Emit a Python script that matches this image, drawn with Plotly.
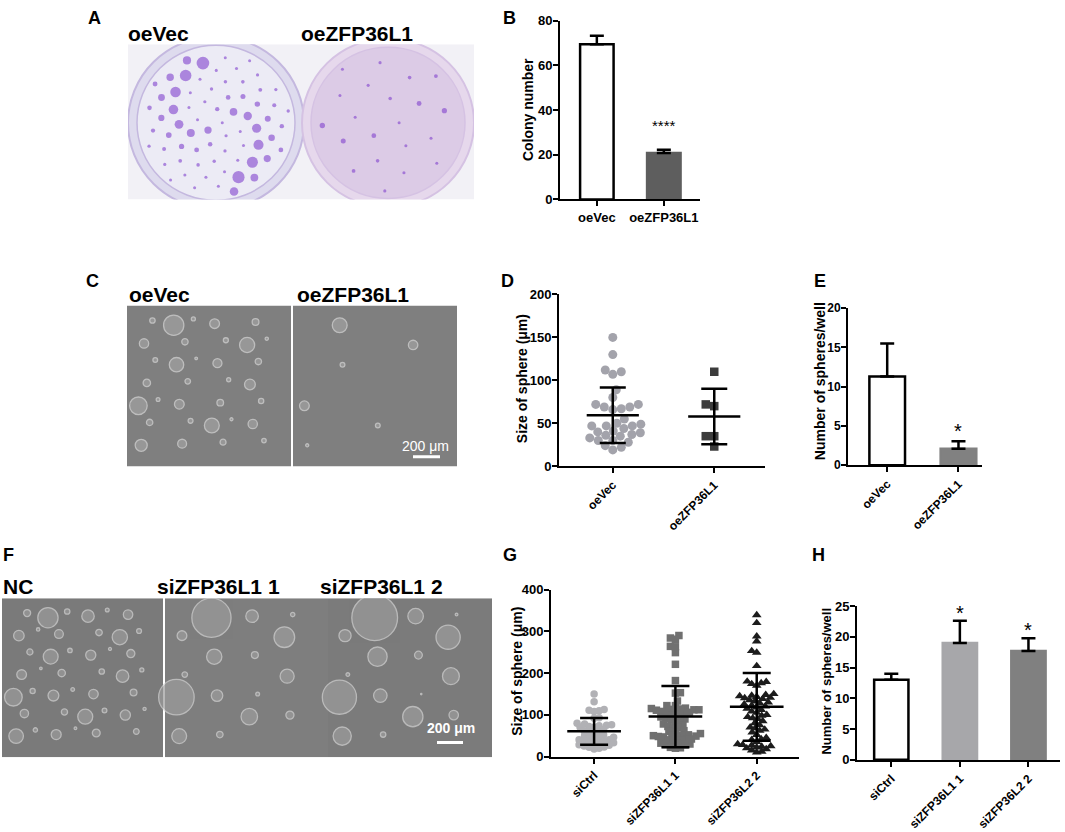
import numpy as np
import plotly.graph_objects as go

W, H = 1065, 832
FONT = "Liberation Sans, Arial, Helvetica, sans-serif"

# ---------------- data ----------------
# Panel B: colony number
b_groups = ["oeVec", "oeZFP36L1"]
b_mean = [69.5, 20.8]
b_err = [3.8, 1.5]
b_sig = ["", "****"]

# Panel D: size of sphere (um)
d_groups = ["oeVec", "oeZFP36L1"]
d_oevec = [150, 130, 112, 110, 107, 89, 80, 72, 72, 69, 69, 67, 66, 55, 50, 49,
           47, 47, 47, 44, 41, 40, 39, 37, 36, 35, 33, 30, 30, 28, 24, 22, 19]
d_oezfp = [110, 72, 70, 35, 35, 23]
d_mean = [59.4, 57.9]
d_sd = [32.3, 32.4]

# Panel E: number of spheres/well
e_groups = ["oeVec", "oeZFP36L1"]
e_mean = [11.3, 2.1]
e_err = [4.2, 0.95]
e_sig = ["", "*"]

# Panel G: size of sphere (um)
g_groups = ["siCtrl", "siZFP36L1 1", "siZFP36L2 2"]
g_sictrl = [150, 131, 113, 111, 110, 108, 93, 92, 80, 78, 76, 75, 74, 72, 70, 70,
            65, 62, 60, 58, 55, 52, 50, 48, 46, 45, 42, 40, 40, 38, 36, 35, 33, 32,
            30, 28, 27, 25, 23, 22, 20, 18]
g_si1 = [290, 284, 281, 264, 263, 249, 221, 182, 153, 152, 133, 122, 122,
         116, 115, 114, 113, 112, 112, 111, 110, 108, 106, 105, 104, 102, 100,
         95, 93, 92, 90, 88, 85, 80, 78, 75, 72, 70, 68, 62, 60, 58, 55,
         52, 51, 50, 50, 49, 48, 47, 46, 42, 41, 40, 39, 38, 32, 31, 30, 29, 28,
         22, 21, 20]
g_si2 = [339, 320, 288, 276, 253, 249, 217, 180, 179, 176, 174, 170, 150, 148,
         146, 145, 143, 141, 140, 138, 135, 132, 130, 128, 125, 122, 120, 118,
         115, 112, 108, 105, 100, 98, 95, 92, 90, 85, 80, 75, 70, 68, 65, 62, 58,
         52, 45, 42, 40, 35, 30, 28, 27, 25, 24, 22, 20, 18, 15, 12, 10]
g_mean = [60.4, 95.7, 119.0]
g_sd = [32.0, 73.3, 81.2]

# Panel H: number of spheres/well
h_groups = ["siCtrl", "siZFP36L1 1", "siZFP36L2 2"]
h_mean = [13.0, 19.0, 17.7]
h_err = [1.0, 3.6, 2.05]
h_sig = ["", "*", "*"]

# Photo panel captions
photo_a_labels = ["oeVec", "oeZFP36L1"]
photo_c_labels = ["oeVec", "oeZFP36L1"]
photo_f_labels = ["NC", "siZFP36L1 1", "siZFP36L1 2"]
scale_label = "200 μm"
panel_letters = ["A", "B", "C", "D", "E", "F", "G", "H"]


# ---------------- helpers ----------------
def xd(a, b):
    return [a / W, b / W]


def yd(top, bottom):
    return [1 - bottom / H, 1 - top / H]


def px(x):
    return x / W


def py(y):
    return 1 - y / H


def value_axis(rng, dtick, top, bottom, anchor, tsize=13):
    return dict(domain=yd(top, bottom), range=rng, dtick=dtick, tick0=0, anchor=anchor,
                showline=True, linewidth=2, linecolor="black", ticks="outside",
                ticklen=5, tickwidth=2, tickcolor="black", showgrid=False,
                zeroline=False, fixedrange=True, ticklabelstandoff=-2,
                tickfont=dict(family=FONT, size=tsize, color="black", weight="bold"))


def cat_axis(names, rng, left, right, anchor, angle, tsize=13):
    return dict(domain=xd(left, right), range=rng, tickmode="array",
                tickvals=list(range(len(names))), ticktext=names, tickangle=angle,
                anchor=anchor, showline=True, linewidth=2, linecolor="black",
                ticks="outside", ticklen=5, tickwidth=2, tickcolor="black",
                showgrid=False, zeroline=False, fixedrange=True,
                tickfont=dict(family=FONT, size=tsize, color="black", weight="bold"))


def photo_axes(left, right, top, bottom, anchor_x, anchor_y):
    xa = dict(domain=xd(left, right), range=[left, right], visible=False,
              anchor=anchor_y, fixedrange=True)
    ya = dict(domain=yd(top, bottom), range=[bottom, top], visible=False,
              anchor=anchor_x, fixedrange=True)
    return xa, ya


def swarm_offsets(values, ppu, ppc, dmin):
    vals = np.asarray(values, float)
    order = np.argsort(vals, kind="stable")
    placed = []
    offs = np.zeros(len(vals))
    step = 0.5
    for n, idx in enumerate(order):
        yv = vals[idx] * ppu
        best = None
        signs = (1, -1) if n % 2 else (-1, 1)
        for j in range(0, 600):
            for sgn in ((1,) if j == 0 else signs):
                xv = sgn * j * step
                if all((xv - a) ** 2 + (yv - b) ** 2 >= dmin ** 2 for a, b in placed):
                    best = xv
                    break
            if best is not None:
                break
        placed.append((best, yv))
        offs[idx] = best / ppc
    return offs


def golden_layout(n, cx, cy, R):
    k = np.arange(n)
    r = R * np.sqrt((k + 0.5) / n)
    th = k * 2.399963
    return cx + r * np.cos(th), cy + r * np.sin(th)


def r2_layout(n, x0, x1, y0, y1, pad):
    g = 1.32471795724474602596
    k = np.arange(1, n + 1)
    u = (0.5 + k / g) % 1
    v = (0.5 + k / g ** 2) % 1
    return x0 + pad + u * (x1 - x0 - 2 * pad), y0 + pad + v * (y1 - y0 - 2 * pad)


fig = go.Figure()
annotations = []
shapes = []


def text(t, x, y, size, bold=True, xanchor="center", yanchor="middle", angle=0,
         color="black", xref="paper", yref="paper", yshift=0):
    annotations.append(dict(text=t, x=x, y=y, xref=xref, yref=yref, showarrow=False,
                            xanchor=xanchor, yanchor=yanchor, textangle=angle,
                            yshift=yshift,
                            font=dict(family=FONT, size=size, color=color,
                                      weight="bold" if bold else "normal")))


# ---------------- bar panels ----------------
def bar_panel(xa, ya, means, errs, fills, lines, sig, star_size, star_shift):
    n = len(means)
    fig.add_trace(go.Bar(
        x=list(range(n)), y=means, width=0.5, xaxis=xa, yaxis=ya,
        marker=dict(color=fills, line=dict(color=lines, width=2.5)),
        error_y=dict(type="data", symmetric=False, array=errs, arrayminus=[0] * n,
                     color="black", thickness=2.5, width=7),
        hoverinfo="skip"))
    for i, s in enumerate(sig):
        if s:
            text(s, i, means[i] + errs[i], star_size, bold=False, xref=xa,
                 yref=ya, yshift=star_shift)


bar_panel("x", "y", b_mean, b_err, ["white", "#5e5e5e"], ["black", "#5e5e5e"],
          b_sig, 15, 24)
bar_panel("x3", "y3", e_mean, e_err, ["white", "#818181"], ["black", "#818181"],
          e_sig, 20, 10)
bar_panel("x5", "y5", h_mean, h_err, ["white", "#a7a7aa", "#808080"],
          ["black", "#a7a7aa", "#808080"], h_sig, 20, 8)


# ---------------- scatter panels ----------------
def scatter_panel(xa, ya, groups_vals, symbols, colors, sizes, ppu, ppc, dmin,
                  means, sds, half_line, cap):
    for i, vals in enumerate(groups_vals):
        offs = swarm_offsets(vals, ppu, ppc, dmin)
        fig.add_trace(go.Scatter(
            x=i + offs, y=vals, mode="markers", xaxis=xa, yaxis=ya,
            marker=dict(symbol=symbols[i], color=colors[i], size=sizes[i],
                        line=dict(width=0)),
            cliponaxis=False, hoverinfo="skip"))
    lx, ly = [], []
    for i, m in enumerate(means):
        lx += [i - half_line, i + half_line, None]
        ly += [m, m, None]
    fig.add_trace(go.Scatter(x=lx, y=ly, mode="lines", xaxis=xa, yaxis=ya,
                             line=dict(color="black", width=2.5), hoverinfo="skip"))
    fig.add_trace(go.Scatter(
        x=list(range(len(means))), y=means, mode="markers", xaxis=xa, yaxis=ya,
        marker=dict(size=1, color="rgba(0,0,0,0)"),
        error_y=dict(type="data", array=sds, color="black", thickness=2.5, width=cap),
        hoverinfo="skip"))


scatter_panel("x2", "y2", [d_oevec, d_oezfp], ["circle", "square"],
              ["#a3a3ab", "#3c3c3c"], [9, 8.5], 175 / 200, 101.3, 8.5,
              d_mean, d_sd, 0.257, 13)
scatter_panel("x4", "y4", [g_sictrl, g_si1, g_si2],
              ["circle", "square", "triangle-up"],
              ["#b1b1b5", "#707070", "#1c1c1c"], [7.5, 7.5, 8.5], 170 / 400, 81.2,
              5.0, g_mean, g_sd, 0.33, 14)

# ---------------- photo panels (illustrations) ----------------
# Panel A: two culture dishes with stained colonies
shapes.append(dict(type="rect", xref="x6", yref="y6", x0=128, x1=474, y0=38, y1=196,
                   fillcolor="#f2f1f6", line=dict(width=0), layer="below"))
dish = [(216, 118, 88, "#dedbee", "#c4b8df", "#ecebf5"),
        (388, 118, 86, "#e6d8ec", "#d5c2e3", "#dccbe6")]
for cx, cy, R, outer, rim, inner in dish:
    shapes.append(dict(type="circle", xref="x6", yref="y6", x0=cx - R, x1=cx + R,
                       y0=cy - R, y1=cy + R, fillcolor=outer,
                       line=dict(color=rim, width=2), layer="below"))
    shapes.append(dict(type="circle", xref="x6", yref="y6", x0=cx - R + 9,
                       x1=cx + R - 9, y0=cy - R + 9, y1=cy + R - 9, fillcolor=inner,
                       line=dict(color=rim, width=1.5), layer="below"))
for j, (cx, cy, R, *_rest) in enumerate(dish):
    n = int(round(b_mean[j]))
    cxs, cys = golden_layout(n, cx, cy, R - 14)
    k = np.arange(n)
    frac = (k * 0.7548776662) % 1
    sz = 3 + (10 if j == 0 else 4) * frac ** 3
    fig.add_trace(go.Scatter(x=cxs, y=cys, mode="markers", xaxis="x6", yaxis="y6",
                             marker=dict(size=sz, color="rgba(128,64,204,0.85)",
                                         line=dict(width=0)),
                             hoverinfo="skip"))

# Panel C: phase-contrast fields
c_fields = [(127, 291), (293, 457)]
for (x0, x1) in c_fields:
    shapes.append(dict(type="rect", xref="x7", yref="y7", x0=x0, x1=x1, y0=304,
                       y1=468, fillcolor="#7f7f7f", line=dict(width=0), layer="below"))
c_scale = 27 / 200
for (x0, x1), vals in zip(c_fields, [d_oevec, d_oezfp]):
    sx, sy = r2_layout(len(vals), x0, x1, 304, 468, 10)
    fig.add_trace(go.Scatter(x=sx, y=sy, mode="markers", xaxis="x7", yaxis="y7",
                             marker=dict(size=np.array(vals) * c_scale, color="#a2a2a2",
                                         line=dict(color="#d8d8d8", width=1.3)),
                             hoverinfo="skip"))
shapes.append(dict(type="line", xref="x7", yref="y7", x0=413, x1=440, y0=458, y1=458,
                   line=dict(color="white", width=3)))
text(scale_label, 425, 447, 14, bold=False, color="white", xref="x7", yref="y7")

# Panel F: phase-contrast fields
f_fields = [(2, 163, "#7a7a7a"), (165, 328, "#7e7e7e"), (328, 492, "#7b7b7b")]
for x0, x1, col in f_fields:
    shapes.append(dict(type="rect", xref="x8", yref="y8", x0=x0, x1=x1, y0=602,
                       y1=764, fillcolor=col, line=dict(width=0), layer="below"))
f_scale = 27 / 200
for (x0, x1, _c), vals in zip(f_fields, [g_sictrl, g_si1[::4], g_si2[::4]]):
    sx, sy = r2_layout(len(vals), x0, x1, 602, 764, 10)
    fig.add_trace(go.Scatter(x=sx, y=sy, mode="markers", xaxis="x8", yaxis="y8",
                             marker=dict(size=np.array(vals) * f_scale, color="#9c9c9c",
                                         line=dict(color="#d4d4d4", width=1.3)),
                             hoverinfo="skip"))
shapes.append(dict(type="line", xref="x8", yref="y8", x0=437, x1=463, y0=749, y1=749,
                   line=dict(color="white", width=3)))
text(scale_label, 451, 734, 14, bold=True, color="white", xref="x8", yref="y8")

# ---------------- labels ----------------
letter_pos = [(94, 11), (510, 11), (92, 279), (507, 279), (820, 279), (9, 558),
              (510, 558), (818, 558)]
for L, (x, y) in zip(panel_letters, letter_pos):
    text(L, px(x), py(y), 18)

text(photo_a_labels[0], px(126), py(27), 21, xanchor="left")
text(photo_a_labels[1], px(299), py(27), 21, xanchor="left")
text(photo_c_labels[0], px(127), py(293), 21, xanchor="left")
text(photo_c_labels[1], px(295), py(293), 21, xanchor="left")
text(photo_f_labels[0], px(1), py(590), 21, xanchor="left")
text(photo_f_labels[1], px(155), py(590), 21, xanchor="left")
text(photo_f_labels[2], px(318), py(590), 21, xanchor="left")

text("Colony number", px(528), py(105), 14, angle=-90)
text("Size of sphere (μm)", px(522), py(379), 14, angle=-90)
text("Number of spheres/well", px(820), py(381), 14, angle=-90)
text("Size of sphere (μm)", px(517), py(677), 14, angle=-90)
text("Number of spheres/well", px(827), py(687), 13, angle=-90)

# ---------------- layout ----------------
xa6, ya6 = photo_axes(128, 474, 38, 196, "x6", "y6")
xa7, ya7 = photo_axes(127, 457, 304, 468, "x7", "y7")
xa8, ya8 = photo_axes(2, 492, 602, 764, "x8", "y8")

fig.update_layout(
    width=W, height=H, margin=dict(l=0, r=0, t=0, b=0),
    paper_bgcolor="white", plot_bgcolor="rgba(0,0,0,0)", showlegend=False,
    font=dict(family=FONT, color="black"),
    xaxis=cat_axis(b_groups, [-0.55, 1.54], 560, 700, "y", 0),
    yaxis=value_axis([0, 80], 20, 14, 196, "x"),
    xaxis2=cat_axis(d_groups, [-0.53, 1.50], 559, 765, "y2", -45, 12),
    yaxis2=value_axis([0, 200], 50, 292.7, 467.7, "x2"),
    xaxis3=cat_axis(e_groups, [-0.55, 1.33], 848, 982, "y3", -45, 12),
    yaxis3=value_axis([0, 20], 5, 306.7, 466.7, "x3", 12),
    xaxis4=cat_axis(g_groups, [-0.53, 2.52], 551, 799, "y4", -45, 12),
    yaxis4=value_axis([0, 400], 100, 593.3, 763.3, "x4"),
    xaxis5=cat_axis(h_groups, [-0.50, 2.46], 857, 1060, "y5", -45, 12),
    yaxis5=value_axis([0, 25], 5, 610, 766.7, "x5"),
    xaxis6=xa6, yaxis6=ya6, xaxis7=xa7, yaxis7=ya7, xaxis8=xa8, yaxis8=ya8,
    annotations=annotations, shapes=shapes,
)

fig.write_html("out.html", config={"displayModeBar": False},
               post_script="document.body.style.margin='0';"
                           "document.body.style.overflow='hidden';")
